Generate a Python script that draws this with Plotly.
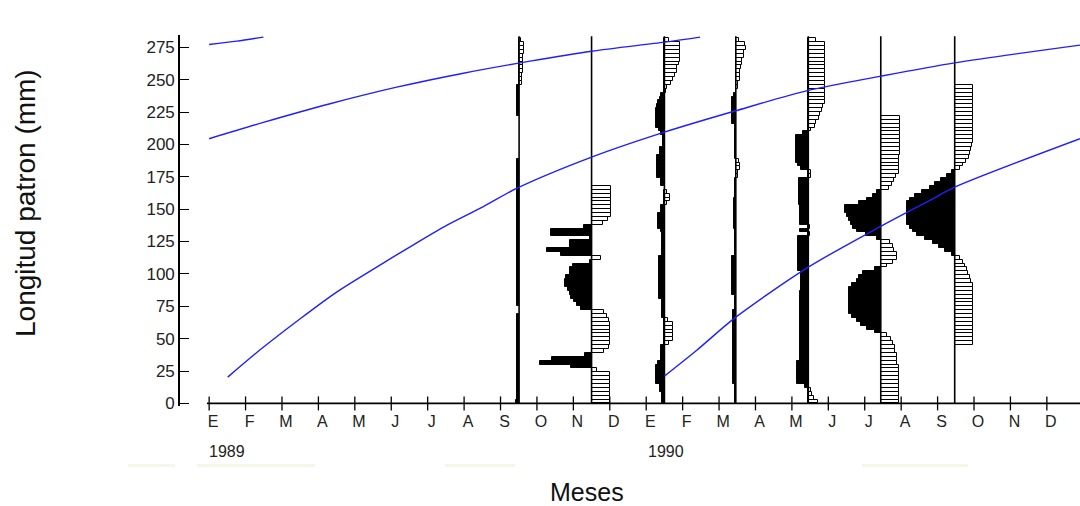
import plotly.graph_objects as go

# ---------------- data ----------------
MONTH_LABELS = ["E", "F", "M", "A", "M", "J", "J", "A", "S", "O", "N", "D",
                "E", "F", "M", "A", "M", "J", "J", "A", "S", "O", "N", "D"]
MONTH_POS = list(range(24))          # month index, 0 = Jan 1989
YEAR_LABELS = ["1989", "1990"]
YEAR_POS = [0.49, 12.54]
Y_TICKS = [0, 25, 50, 75, 100, 125, 150, 175, 200, 225, 250, 275]

BIN_W = 3.0                          # length class width (mm)
N_BINS = 94
L_CENTERS = [BIN_W * (k + 0.5) for k in range(N_BINS)]

SAMPLE_MONTHS = [8.51, 10.50, 12.50, 14.46, 16.45, 18.44, 20.47]

# restructured frequency scores per length class (bottom -> top)
S1 = [-3, -2, -2, -2, -2, -2, -2, -2, -2, -2,
      -2, -2, -2, -2, -2, -2, -2, -2, -2, -2,
      -2, -2, -2, 0, 0, -2, -2, -2, -2, -2,
      -2, -2, -2, -2, -2, -2, -2, -2, -2, -2,
      -2, -2, -2, -2, -2, -2, -2, -2, -2, -2,
      -2, -2, -2, -2, -2, -2, -2, -2, -2, -2,
      -2, -2, -2, 0, 0, 0, 0, 0, 0, 0,
      0, 0, 0, 0, -2, -2, -2, -2, -2, -2,
      -2, -2, 3, 3, 3, 4, 4, 4, 4, 4,
      5, 5, 5, 2]
S2 = [18, 18, 18, 18, 18, 18, 18, 18, 5, -21,
      -52, -40, -7, 12, 17, 18, 18, 18, 18, 18,
      18, 17, 15, 12, -11, -15, -18, -21, -22, -24,
      -27, -27, -26, -22, -22, -19, -2, 9, -31, -45,
      -22, -22, -2, -41, -41, -8, 11, 16, 19, 19,
      19, 19, 19, 19, 19, 19, 0, 0, 0, 0,
      0, 0, 0, 0, 0, 0, 0, 0, 0, 0,
      0, 0, 0, 0, 0, 0, 0, 0, 0, 0,
      0, 0, 0, 0, 0, 0, 0, 0, 0, 0,
      0, 0, 0, 0]
S3 = [-2, -2, -2, -4, -4, -8, -8, -8, -8, -8,
      -6, -3, -3, -3, -3, 5, 9, 9, 9, 9,
      9, 4, -2, -2, -2, -2, -2, -5, -5, -5,
      -5, -5, -5, -5, -5, -5, -5, -5, -2, -2,
      -2, -2, -2, -2, -3, -6, -6, -6, -6, -3,
      -3, 3, 6, 6, 3, 0, -3, -3, -7, -7,
      -7, -7, -7, -7, -4, -4, -1, -1, -1, -3,
      -5, -8, -8, -8, -8, -8, -7, -6, -4, -3,
      2, 3, 7, 9, 11, 13, 13, 15, 16, 16,
      16, 16, 16, 5]
S4 = [-1, -1, -1, -1, -1, -3, -3, -3, -3, -3,
      -3, -3, -3, -3, -3, -3, -3, -3, -3, -3,
      -3, -3, -3, -3, -1, -1, -1, -1, -4, -4,
      -4, -4, -4, -4, -4, -4, -4, -4, -1, -1,
      -1, -1, -1, -1, -1, -2, -2, -2, -2, -2,
      -2, -2, -2, -1, -1, -1, -1, -1, 2, 2,
      4, 4, 3, -1, -1, -1, -1, -1, -1, -1,
      -1, -1, -4, -4, -4, -4, -4, -4, -4, -2,
      0, 2, 2, 4, 4, 4, 5, 6, 6, 8,
      8, 10, 9, 3]
S5 = [10, 6, 4, 3, -3, -11, -11, -11, -11, -11,
      -11, -8, -8, -8, -8, -8, -8, -8, -8, -8,
      -8, -8, -8, -8, -8, -8, -8, -8, -8, -7,
      -7, -7, -7, -7, -10, -10, -10, -10, -10, -10,
      -10, -10, -10, 2, -8, 2, -8, -8, -8, -8,
      -8, -9, -9, -9, -9, -9, -9, -9, 3, 3,
      -7, -10, -12, -12, -12, -12, -12, -12, -12, -5,
      3, 7, 8, 11, 12, 14, 15, 17, 17, 17,
      17, 17, 17, 17, 17, 17, 17, 17, 17, 17,
      17, 17, 17, 8]
S6 = [18, 18, 18, 18, 18, 18, 18, 18, 18, 18,
      16, 16, 16, 14, 14, 12, 10, 6, -6, -14,
      -20, -24, -29, -32, -32, -32, -32, -32, -32, -32,
      -29, -24, -22, -18, -6, 6, 12, 16, 16, 13,
      12, 9, -4, -15, -24, -28, -30, -32, -34, -36,
      -36, -22, -14, -8, -4, 8, 11, 13, 15, 18,
      18, 18, 18, 18, 19, 19, 19, 19, 19, 19,
      19, 19, 19, 19, 0, 0, 0, 0, 0, 0,
      0, 0, 0, 0, 0, 0, 0, 0, 0, 0,
      0, 0, 0, 0]
S7 = [0, 0, 0, 0, 0, 0, 0, 0, 0, 0,
      0, 0, 0, 0, 0, 18, 18, 18, 18, 18,
      18, 18, 18, 18, 18, 18, 18, 18, 18, 18,
      18, 16, 15, 13, 12, 10, 8, 5, -3, -10,
      -16, -22, -30, -38, -42, -45, -48, -48, -48, -48,
      -48, -48, -45, -40, -33, -25, -20, -14, -8, -3,
      5, 8, 11, 14, 15, 16, 17, 18, 18, 18,
      18, 18, 18, 18, 18, 18, 18, 18, 18, 18,
      18, 18, 0, 0, 0, 0, 0, 0, 0, 0,
      0, 0, 0, 0]
SAMPLES = [S1, S2, S3, S4, S5, S6, S7]

# growth curves (month, length mm)
C1_T = [0.0, 0.76, 1.49]
C1_L = [277.2, 279.8, 282.9]
C2_T = [0.0, 1.49, 3.32, 5.15, 6.98, 8.81, 10.50, 12.50, 13.48]
C2_L = [204.4, 217.0, 231.4, 244.2, 255.0, 264.3, 272.0, 279.0, 282.9]
C3_T = [0.51, 1.40, 2.50, 3.50, 4.60, 5.61, 6.52, 7.53, 8.44,
        10.50, 12.50, 14.46, 16.45, 18.44, 20.47, 23.91]
C3_L = [20.3, 41.4, 65.4, 86.0, 105.3, 122.5, 137.5, 152.0, 166.0,
        190.2, 209.5, 226.0, 241.7, 252.7, 263.0, 276.7]
C4_T = [12.50, 13.38, 14.46, 16.45, 18.44, 19.79, 20.47, 23.91]
C4_L = [21.1, 40.9, 66.6, 105.2, 136.7, 156.8, 167.0, 204.4]
CURVES = [(C1_T, C1_L), (C2_T, C2_L), (C3_T, C3_L), (C4_T, C4_L)]

# ---------------- layout constants ----------------
W, H = 1080, 506
ML, MR, MT, MB = 180, 0, 35, 100
X_RANGE = [-0.80, 23.91]
Y_RANGE = [-2.0, 284.5]
SCORE_SCALE = 1 / 36.43     # months of axis per score unit
BASE_TOP = 283.6
FONT = "Liberation Sans, Arial, sans-serif"


def py(pix):
    return (H - MB - pix) / (H - MT - MB)


def px(pix):
    return (pix - ML) / (W - ML - MR)


fig = go.Figure()

for base, vals in zip(SAMPLE_MONTHS, SAMPLES):
    pos_y = [l for l, v in zip(L_CENTERS, vals) if v > 0]
    pos_x = [v * SCORE_SCALE for v in vals if v > 0]
    neg_y = [l for l, v in zip(L_CENTERS, vals) if v < 0]
    neg_x = [v * SCORE_SCALE for v in vals if v < 0]
    fig.add_trace(go.Bar(orientation="h", y=pos_y, x=pos_x, base=base, width=BIN_W,
                         marker=dict(color="white", line=dict(color="black", width=1)),
                         showlegend=False, hoverinfo="skip"))
    fig.add_trace(go.Bar(orientation="h", y=neg_y, x=neg_x, base=base, width=BIN_W,
                         marker=dict(color="black", line=dict(color="black", width=1)),
                         showlegend=False, hoverinfo="skip"))

for base in SAMPLE_MONTHS:
    fig.add_trace(go.Scatter(x=[base, base], y=[0, BASE_TOP], mode="lines",
                             line=dict(color="black", width=1.6),
                             showlegend=False, hoverinfo="skip"))

for t, l in CURVES:
    fig.add_trace(go.Scatter(x=t, y=l, mode="lines",
                             line=dict(color="#1f1fff", width=1.4, shape="spline", smoothing=0.8),
                             showlegend=False, hoverinfo="skip"))

# x axis line and crossing ticks
fig.add_trace(go.Scatter(x=[-0.06, X_RANGE[1]], y=[0, 0], mode="lines",
                         line=dict(color="black", width=1.6), cliponaxis=False,
                         showlegend=False, hoverinfo="skip"))
fig.add_trace(go.Scatter(x=MONTH_POS + [24], y=[0] * 25, mode="markers", cliponaxis=False,
                         marker=dict(symbol="line-ns-open", size=10, color="black",
                                     line=dict(color="black", width=1.3)),
                         showlegend=False, hoverinfo="skip"))

annotations = []
for lab, pos in zip(YEAR_LABELS, YEAR_POS):
    annotations.append(dict(x=pos, y=py(451), xref="x", yref="paper", text=lab,
                            xanchor="center", yanchor="middle",
                            showarrow=False, font=dict(size=16, color="#222", family=FONT)))
annotations.append(dict(x=px(587), y=py(492), xref="paper", yref="paper", text="Meses",
                        xanchor="center", yanchor="middle",
                        showarrow=False, font=dict(size=25, color="#111", family=FONT)))
annotations.append(dict(x=px(25), y=py(203), xref="paper", yref="paper",
                        text="Longitud patron (mm)", textangle=-90,
                        xanchor="center", yanchor="middle",
                        showarrow=False, font=dict(size=28, color="#111", family=FONT)))

shapes = []
for x0, x1 in [(128, 175), (197, 315), (445, 515), (862, 968)]:
    shapes.append(dict(type="rect", xref="paper", yref="paper",
                       x0=px(x0), x1=px(x1), y0=py(467), y1=py(464),
                       fillcolor="#f6f6e8", line=dict(width=0), layer="below"))

fig.update_layout(
    width=W, height=H, margin=dict(l=ML, r=MR, t=MT, b=MB),
    paper_bgcolor="white", plot_bgcolor="white",
    barmode="overlay", bargap=0,
    annotations=annotations, shapes=shapes,
    xaxis=dict(range=X_RANGE, tickvals=[m + 0.11 for m in MONTH_POS], ticktext=MONTH_LABELS,
               ticks="", showline=False, showgrid=False, zeroline=False,
               ticklabelstandoff=4,
               tickfont=dict(size=16, color="#222", family=FONT)),
    yaxis=dict(range=Y_RANGE, tickvals=Y_TICKS, ticks="inside", ticklen=9, tickwidth=1.3,
               tickcolor="black", showline=True, linecolor="black", linewidth=1.6,
               showgrid=False, zeroline=False,
               tickfont=dict(size=17, color="#222", family=FONT)),
)

fig.write_html("out.html")
